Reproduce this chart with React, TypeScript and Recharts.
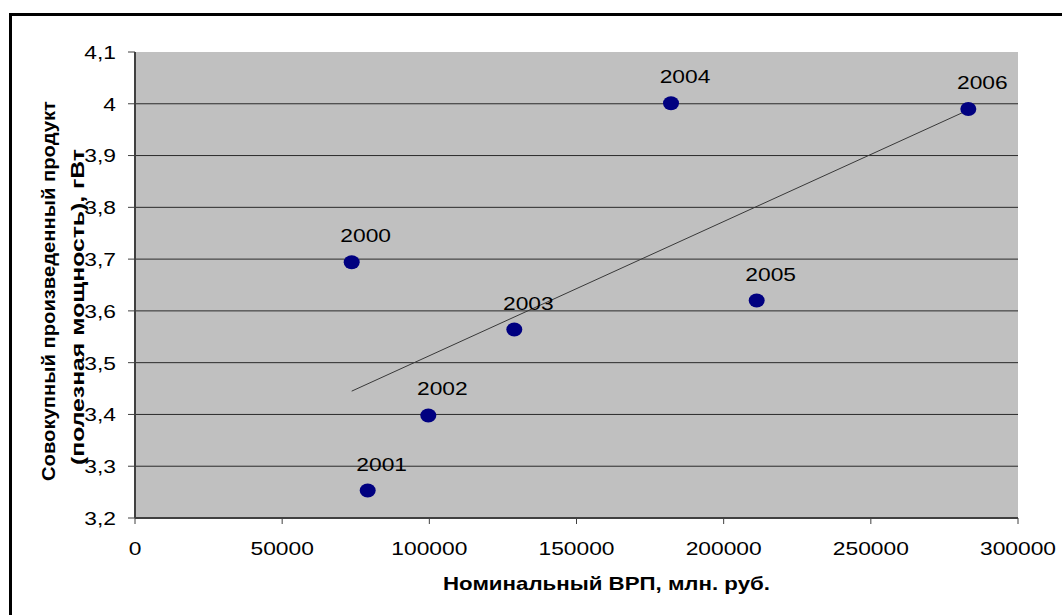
import React from 'react';
import { ScatterChart, Scatter, XAxis, YAxis, CartesianGrid } from 'recharts';

const years = ['2000', '2001', '2002', '2003', '2004', '2005', '2006'];
const grpValues = [73620, 79060, 99650, 128870, 182110, 211220, 283120];
const powerValues = [3.694, 3.253, 3.398, 3.564, 4.001, 3.62, 3.99];

const trendX = [73620, 283120];
const trendY = [3.445, 3.988];

const xTicks = [0, 50000, 100000, 150000, 200000, 250000, 300000];
const yTicks = [3.2, 3.3, 3.4, 3.5, 3.6, 3.7, 3.8, 3.9, 4.0, 4.1];
const gridValues = [3.3, 3.4, 3.5, 3.6, 3.7, 3.8, 3.9, 4.0];

const xTitle = 'Номинальный ВРП, млн. руб.';
const yTitle1 = 'Совокупный произведенный продукт';
const yTitle2 = '(полезная мощность), гВт';

const points = years.map((year, i) => ({ year, x: grpValues[i], y: powerValues[i] }));
const trend = trendX.map((x, i) => ({ x, y: trendY[i] }));

const FONT = '"Liberation Sans", Arial, sans-serif';
const SX = 1.2;

const fmtY = (v: number) => String(Math.round(v * 10) / 10).replace('.', ',');

const YTick = (props: any) => {
  const { x, y, payload } = props;
  return (
    <text
      transform={`translate(${x},${y}) scale(${SX},1)`}
      textAnchor="end"
      dy="0.36em"
      fontFamily={FONT}
      fontSize={19}
      fill="#000"
    >
      {fmtY(payload.value)}
    </text>
  );
};

const XTick = (props: any) => {
  const { x, y, payload } = props;
  return (
    <text
      transform={`translate(${x},${y}) scale(${SX},1)`}
      textAnchor="middle"
      dy="0.71em"
      fontFamily={FONT}
      fontSize={19}
      fill="#000"
    >
      {String(payload.value)}
    </text>
  );
};

const PointShape = (props: any) => {
  const { cx, cy, payload } = props;
  if (cx == null || cy == null) return <g />;
  return (
    <g>
      <ellipse cx={cx} cy={cy} rx={8} ry={7} fill="#000080" />
      <text
        transform={`translate(${cx + 14},${cy - 20}) scale(${SX},1)`}
        textAnchor="middle"
        fontFamily={FONT}
        fontSize={19}
        fill="#000"
      >
        {payload.year}
      </text>
    </g>
  );
};

const EmptyShape = () => <g />;

const XTitle = (props: any) => {
  const vb = props.viewBox || {};
  const cx = vb.x + vb.width / 2 + 30;
  return (
    <text
      x={cx}
      y={590}
      textAnchor="middle"
      fontFamily={FONT}
      fontSize={19}
      fontWeight="bold"
      fill="#000"
      textLength={327}
      lengthAdjust="spacingAndGlyphs"
    >
      {xTitle}
    </text>
  );
};

const YTitle = () => (
  <g>
    <text
      transform="translate(55,291) rotate(-90)"
      textAnchor="middle"
      fontFamily={FONT}
      fontSize={18}
      fontWeight="bold"
      fill="#000"
      textLength={380}
      lengthAdjust="spacingAndGlyphs"
    >
      {yTitle1}
    </text>
    <text
      transform="translate(84,307) rotate(-90)"
      textAnchor="middle"
      fontFamily={FONT}
      fontSize={18}
      fontWeight="bold"
      fill="#000"
      textLength={316}
      lengthAdjust="spacingAndGlyphs"
    >
      {yTitle2}
    </text>
  </g>
);

export default function App() {
  return (
    <div style={{ position: 'absolute', left: 0, top: 0, width: 1062, height: 615, background: '#fff', overflow: 'hidden' }}>
      <div
        style={{
          position: 'absolute',
          left: 9,
          top: 13,
          width: 1060,
          height: 610,
          borderTop: '3px solid #000',
          borderLeft: '3px solid #000',
        }}
      />
      <div style={{ position: 'absolute', left: 0, top: 0 }}>
        <ScatterChart width={1062} height={615} margin={{ top: 52, right: 44, bottom: 0, left: 0 }}>
          <CartesianGrid
            horizontal={true}
            vertical={false}
            fill="#C0C0C0"
            stroke="#2a2a2a"
            strokeWidth={1}
            horizontalValues={gridValues}
          />
          <XAxis
            type="number"
            dataKey="x"
            domain={[0, 300000]}
            ticks={xTicks}
            interval={0}
            height={97}
            tickSize={6}
            tickMargin={18}
            axisLine={{ stroke: '#404040', strokeWidth: 2 }}
            tickLine={{ stroke: '#404040', strokeWidth: 1 }}
            tick={<XTick />}
            label={<XTitle />}
            allowDataOverflow
          />
          <XAxis
            xAxisId="top"
            orientation="top"
            type="number"
            domain={[0, 300000]}
            height={0}
            tick={false}
            tickLine={false}
            axisLine={{ stroke: '#8a8a8a', strokeWidth: 1.5 }}
          />
          <YAxis
            type="number"
            dataKey="y"
            domain={[3.2, 4.1]}
            ticks={yTicks}
            interval={0}
            width={135}
            tickSize={7}
            tickMargin={12}
            axisLine={{ stroke: '#404040', strokeWidth: 2 }}
            tickLine={{ stroke: '#404040', strokeWidth: 1 }}
            tick={<YTick />}
            label={<YTitle />}
            allowDataOverflow
          />
          <YAxis
            yAxisId="right"
            orientation="right"
            type="number"
            domain={[3.2, 4.1]}
            width={0}
            tick={false}
            tickLine={false}
            axisLine={{ stroke: '#808080', strokeWidth: 2 }}
          />
          <Scatter
            data={trend}
            line={{ stroke: '#383838', strokeWidth: 1 }}
            shape={<EmptyShape />}
            isAnimationActive={false}
          />
          <Scatter data={points} shape={<PointShape />} isAnimationActive={false} />
        </ScatterChart>
      </div>
    </div>
  );
}
